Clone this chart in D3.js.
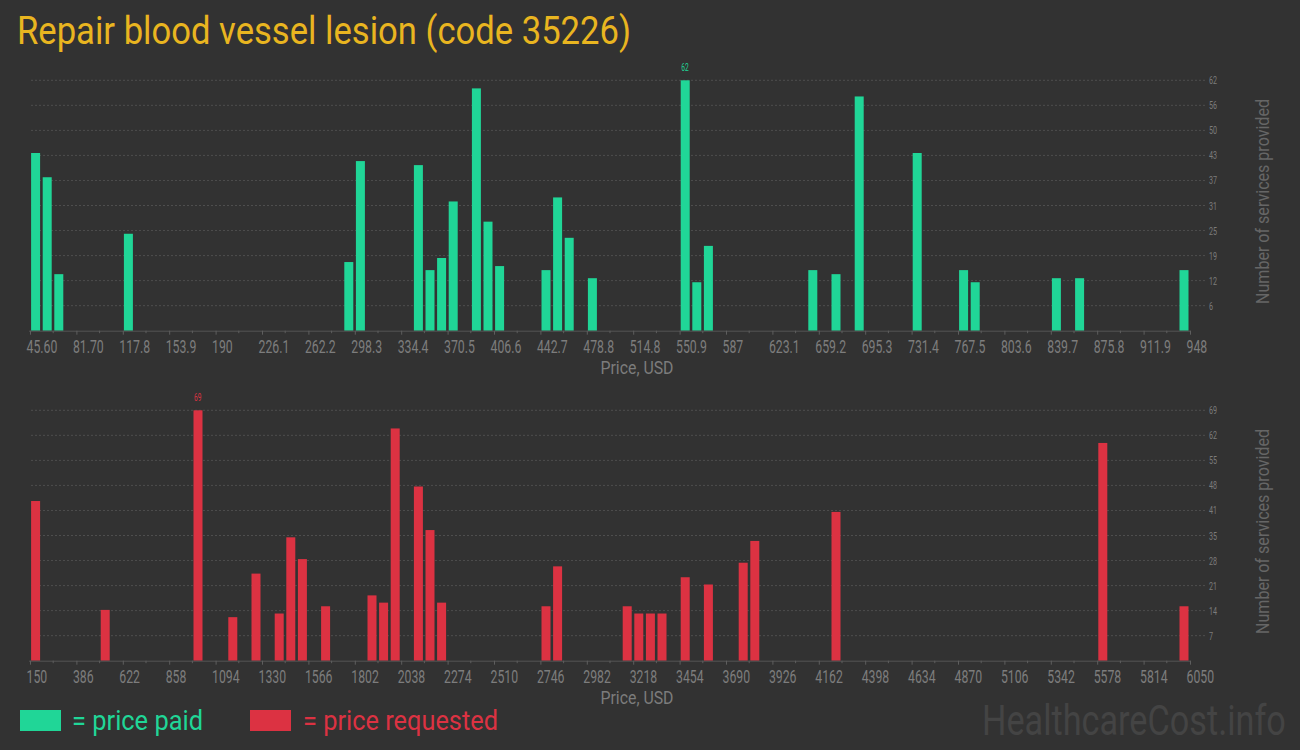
<!DOCTYPE html>
<html>
<head>
<meta charset="utf-8">
<script src="https://cdn.jsdelivr.net/npm/d3@7"></script>
<style>
  html, body { margin: 0; padding: 0; background: #323232; }
  svg { display: block; }
  text { font-family: Roboto, "Noto Sans", sans-serif; }
</style>
</head>
<body>
<svg id="chart" width="1300" height="750"></svg>
<script>
// ---- data ----
const titleText = "Repair blood vessel lesion (code 35226)";
const binCount = 100;

const paidDomain = [45.6, 948];
const paidTickLabels = ["45.60","81.70","117.8","153.9","190","226.1","262.2","298.3","334.4","370.5","406.6","442.7","478.8","514.8","550.9","587","623.1","659.2","695.3","731.4","767.5","803.6","839.7","875.8","911.9","948"];
const paidBins   = [0, 1, 2, 8, 27, 28, 33, 34, 35, 36, 38, 39, 40, 44, 45, 46, 48, 56, 57, 58, 67, 69, 71, 76, 80, 81, 88, 90, 99];
const paidCounts = [44,38,14,24,17, 42, 41, 15, 18, 32, 60, 27, 16, 15, 33, 23, 13, 62, 12, 21, 15, 14, 58, 44, 15, 12, 13, 13, 15];
const paidMax = 62;
const paidYLabels = [6,12,19,25,31,37,43,50,56,62];

const reqDomain = [150, 6050];
const reqTickLabels = ["150","386","622","858","1094","1330","1566","1802","2038","2274","2510","2746","2982","3218","3454","3690","3926","4162","4398","4634","4870","5106","5342","5578","5814","6050"];
const reqBins   = [0, 6, 14, 17, 19, 21, 22, 23, 25, 29, 30, 31, 33, 34, 35, 44, 45, 51, 52, 53, 54, 56, 58, 61, 62, 69, 92, 99];
const reqCounts = [44,14,69, 12, 24, 13, 34, 28, 15, 18, 16, 64, 48, 36, 16, 15, 26, 15, 13, 13, 13, 23, 21, 27, 33, 41, 60, 15];
const reqMax = 69;
const reqYLabels = [7,14,21,28,35,41,48,55,62,69];

const GREEN = "#20d697";
const RED = "#dc3242";

// ---- drawing ----
const svg = d3.select("#chart");
svg.append("rect").attr("width",1300).attr("height",750).attr("fill","#323232");

function condense(sel, factor) {
  sel.each(function() {
    const w = this.getComputedTextLength();
    d3.select(this).attr("textLength", w * factor).attr("lengthAdjust", "spacingAndGlyphs");
  });
}
function fit(sel, len) {
  sel.attr("textLength", len).attr("lengthAdjust", "spacingAndGlyphs");
}

svg.append("text").attr("x", 17).attr("y", 44).attr("font-size", 39)
  .attr("fill", "#e9b520").text(titleText).call(fit, 614);

function panel(opts) {
  const {domain, tickLabels, bins, counts, maxV, yLabels, color, top, bottom} = opts;
  const x = d3.scaleLinear().domain(domain).range([30, 1190]);
  const y = d3.scaleLinear().domain([0, maxV]).range([bottom, top]);
  const g = svg.append("g");
  const binW = (domain[1] - domain[0]) / binCount;

  // gridlines
  const yVals = d3.range(1, 11).map(k => maxV * k / 10);
  g.selectAll(".grid").data(yVals).join("line")
    .attr("x1", 31).attr("x2", 1206)
    .attr("y1", d => y(d)).attr("y2", d => y(d))
    .attr("stroke", "#4e4e4e").attr("stroke-width", 1).attr("stroke-dasharray", "2,2");

  // y labels (right)
  g.selectAll(".ylab").data(yVals).join("text")
    .attr("x", 1209).attr("y", d => y(d) + 4)
    .attr("font-size", 11.5).attr("fill", "#7c7c7c")
    .text((d, i) => yLabels[i]).call(condense, 0.62);

  // bars
  const data = bins.map((b, i) => ({b, c: counts[i]}));
  g.selectAll(".bar").data(data).join("rect")
    .attr("x", d => x(domain[0] + d.b * binW) + 1.1)
    .attr("width", x(domain[0] + binW) - x(domain[0]) - 2.6)
    .attr("y", d => y(d.c))
    .attr("height", d => y(0) - y(d.c))
    .attr("fill", color);

  // max label
  const mx = data.reduce((a, d) => d.c > a.c ? d : a, data[0]);
  g.append("text")
    .attr("x", x(domain[0] + (mx.b + 0.5) * binW) - 0.4)
    .attr("y", y(mx.c) - 9)
    .attr("text-anchor", "middle").attr("font-size", 11).attr("fill", color)
    .text(mx.c).call(condense, 0.6);

  // x axis
  const ax = d3.axisBottom(x)
    .tickValues(d3.range(0, 26).map(i => domain[0] + i * (domain[1] - domain[0]) / 25))
    .tickSize(4).tickFormat((d, i) => tickLabels[i]);
  const axg = g.append("g").attr("transform", `translate(0,${bottom})`).call(ax);
  axg.select(".domain").attr("stroke", "#555").attr("d", "M29,0.5H1190.5");
  axg.selectAll(".tick line").attr("stroke", "#5e5e5e");
  axg.selectAll(".tick text")
    .attr("font-family", "Roboto, sans-serif").attr("font-size", 17.5).attr("fill", "#7d7d7d")
    .attr("text-anchor", "start").attr("x", -4).attr("y", 22).attr("dy", null)
    .call(condense, 0.70);
  // minor ticks
  const minor = d3.range(0, 25).map(i => domain[0] + (i + 0.5) * (domain[1] - domain[0]) / 25);
  g.selectAll(".minor").data(minor).join("line")
    .attr("x1", d => x(d)).attr("x2", d => x(d))
    .attr("y1", bottom).attr("y2", bottom + 2.5)
    .attr("stroke", "#5e5e5e");

  // axis titles
  g.append("text").attr("x", 637).attr("y", bottom + 43).attr("text-anchor", "middle")
    .attr("font-size", 18).attr("fill", "#7c7c7c").text("Price, USD").call(fit, 73);
  g.append("text")
    .attr("transform", `translate(1269,${(top + bottom) / 2 - 4}) rotate(-90)`)
    .attr("text-anchor", "middle").attr("font-size", 17.5).attr("fill", "#666")
    .text("Number of services provided").call(fit, 205);
}

panel({domain: paidDomain, tickLabels: paidTickLabels, bins: paidBins, counts: paidCounts,
  maxV: paidMax, yLabels: paidYLabels, color: GREEN, top: 80.3, bottom: 330.7});
panel({domain: reqDomain, tickLabels: reqTickLabels, bins: reqBins, counts: reqCounts,
  maxV: reqMax, yLabels: reqYLabels, color: RED, top: 410.3, bottom: 660.7});

// legend
svg.append("rect").attr("x", 20).attr("y", 710).attr("width", 41).attr("height", 21).attr("fill", GREEN);
svg.append("text").attr("x", 72).attr("y", 730).attr("font-size", 28).attr("fill", GREEN)
  .text("= price paid").call(fit, 131);
svg.append("rect").attr("x", 250).attr("y", 710).attr("width", 41).attr("height", 21).attr("fill", RED);
svg.append("text").attr("x", 303).attr("y", 730).attr("font-size", 28).attr("fill", RED)
  .text("= price requested").call(fit, 195);

// watermark (scaled horizontally so its box stays inside the frame)
const wm = svg.append("text").attr("x", 0).attr("y", 0).attr("font-size", 42).attr("fill", "#444")
  .text("HealthcareCost.info");
const wmW = wm.node().getComputedTextLength();
wm.attr("transform", `translate(982,735) scale(${304 / wmW},1)`);
</script>
</body>
</html>
